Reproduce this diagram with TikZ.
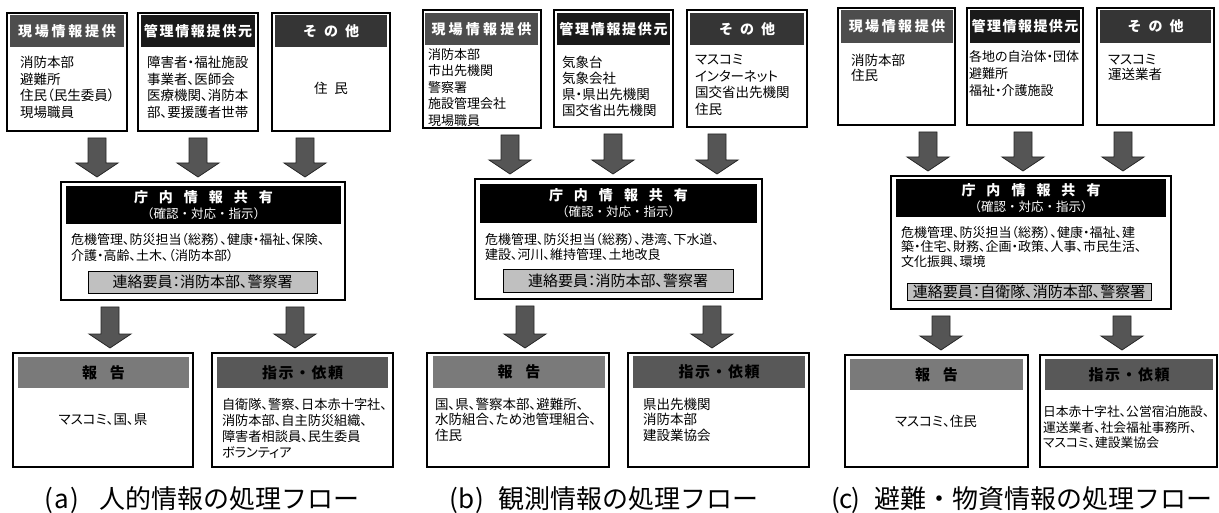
\documentclass[tikz,border=0pt]{standalone}
\usepackage{fontspec}
\setmainfont{Noto Sans CJK JP}[RawFeature=+palt]
\newfontfamily\fwfont{Noto Sans CJK JP}
\usetikzlibrary{calc}
\definecolor{hA}{HTML}{4D4D4D}
\definecolor{hB}{HTML}{1A1A1A}
\definecolor{hC}{HTML}{353535}
\definecolor{rep}{HTML}{7A7A7A}
\definecolor{ins}{HTML}{585858}
\definecolor{gbox}{HTML}{C0C0C0}
\definecolor{arr}{HTML}{555555}
\makeatletter
\newcommand{\spc}[2]{\def\spc@sep{\hspace{#1}}\spc@loop#2\relax}
\def\spc@loop#1{\ifx#1\relax\else#1\expandafter\spc@next\fi}
\def\spc@next#1{\ifx#1\relax\else\spc@sep#1\expandafter\spc@next\fi}
\makeatother
\newcommand{\hw}[2]{\makebox[#1]{#2}}
\newcommand{\mkbox}[7]{\node[#6, minimum width={#4-#2}, minimum height={#5-#3}, anchor=north west] (#1) at (#2,#3) {#7};}
\newcommand{\barrow}[3]{%
  \draw[barrowst] let \p1=(#2.south), \p2=(#3.north) in
  ({#1pt-9pt},{\y1-7pt}) -- ({#1pt+9pt},{\y1-7pt}) -- ({#1pt+9pt},{\y2+19pt}) --
  ({#1pt+21pt},{\y2+19pt}) -- ({#1pt},{\y2+5pt}) -- ({#1pt-21pt},{\y2+19pt}) --
  ({#1pt-9pt},{\y2+19pt}) -- cycle;}
\begin{document}
\begin{tikzpicture}[x=1pt,y=-1pt,
  every node/.style={inner sep=0pt, outer sep=0pt},
  obox/.style={draw=black, line width=1.3pt, fill=white},
  hdr/.style={fill=#1, text=white, font=\fwfont\bfseries\fontsize{14}{16}\selectfont},
  mhdr/.style={fill=black, text=white, align=center, font=\fwfont\fontsize{12.5}{16}\selectfont},
  bhdr/.style={fill=#1, text=black, font=\fwfont\bfseries\fontsize{15}{17}\selectfont},
  gbx/.style={draw=black, line width=0.9pt, fill=gbox, font=\fontsize{15}{17}\selectfont},
  topt/.style={anchor=west, align=left, font=\fontsize{13.5}{16.5}\selectfont},
  midt/.style={anchor=west, align=left, font=\fontsize{13}{15.5}\selectfont},
  bott/.style={anchor=west, align=left, font=\fontsize{13.5}{16}\selectfont},
  captxt/.style={font=\fwfont\fontsize{26}{30}\selectfont},
  barrowst/.style={fill=arr, draw=black!85, line width=0.8pt, line join=miter}]
\fill[white] (0,0) rectangle (1219,513);
\useasboundingbox (0,0) rectangle (1219,513);

% ================= (a) =================
\mkbox{a1}{7}{13}{127}{131}{obox}{}
\mkbox{a1h}{10}{15}{124}{47}{hdr=hA}{\spc{2.8pt}{現場情報提供}}
\node[topt] (a1t) at (20,87.5) {消防本部\\避難所\\住民（民生委員）\\現場職員};
\mkbox{a2}{138}{13}{258}{131}{obox}{}
\mkbox{a2h}{141}{15}{255}{47}{hdr=hB}{\spc{1.7pt}{管理情報提供元}}
\node[topt] (a2t) at (147,87.5) {障害者・福祉施設\\事業者、医師会\\医療機関、消防本\\部、要援護者世帯};
\mkbox{a3}{272}{13}{390}{131}{obox}{}
\mkbox{a3h}{275}{15}{387}{47}{hdr=hC}{\spc{7pt}{その他}}
\node[font=\fontsize{13.5}{16}\selectfont] (a3t) at (331,88) {住\hspace{7pt}民};

\mkbox{am}{61}{182}{345}{300}{obox}{}
\mkbox{amh}{66}{186}{341}{224}{mhdr}{{\bfseries\fontsize{14}{16}\selectfont\spc{11pt}{庁内情報共有}}\\（確認・対応・指示）}
\node[midt] (amt) at (71,247.5) {危機管理、防災担当（総務）、健康・福祉、保険、\\介護・高齢、土木、（消防本部）};
\mkbox{amg}{88}{271}{317}{293}{gbx}{連絡要員：消防本部、警察署}

\mkbox{ab1}{13}{353}{193}{467}{obox}{}
\mkbox{ab1h}{18}{357}{189}{388}{bhdr=rep}{\spc{13pt}{報告}}
\node[font=\fontsize{13.5}{16}\selectfont] (ab1t) at (103,420) {マスコミ、国、県};
\mkbox{ab2}{212}{353}{393}{467}{obox}{}
\mkbox{ab2h}{217}{357}{388}{388}{bhdr=ins}{\spc{1.5pt}{指示・依頼}}
\node[bott, font=\fontsize{13.2}{16}\selectfont] (ab2t) at (222,428) {自衛隊、警察、日本赤十字社、\\消防本部、自主防災組織、\\障害者相談員、民生委員\\ボランティア};

\barrow{97}{a1}{am}
\barrow{198}{a2}{am}
\barrow{305}{a3}{am}
\barrow{110}{am}{ab1}
\barrow{295}{am}{ab2}
\node[captxt] (capa) at (201,500) {\hw{13pt}{(}\hw{13pt}{a}\hw{13pt}{)}\hspace{18pt}人的情報の処理フロー};

% ================= (b) =================
\mkbox{b1}{423}{10}{541}{128}{obox}{}
\mkbox{b1h}{425}{13}{538}{45}{hdr=hA}{\spc{3.2pt}{現場情報提供}}
\node[topt, font=\fontsize{13}{16.5}\selectfont] (b1t) at (428,87.5) {消防本部\\市出先機関\\警察署\\施設管理会社\\現場職員};
\mkbox{b2}{554}{10}{673}{127}{obox}{}
\mkbox{b2h}{557}{13}{670}{45}{hdr=hB}{\spc{1.7pt}{管理情報提供元}}
\node[topt, font=\fontsize{13.5}{16}\selectfont] (b2t) at (562,86) {気象台\\気象会社\\県・県出先機関\\国交省出先機関};
\mkbox{b3}{687}{10}{807}{127}{obox}{}
\mkbox{b3h}{690}{13}{804}{45}{hdr=hC}{\spc{7pt}{その他}}
\node[topt, font=\fontsize{13.5}{16.7}\selectfont] (b3t) at (695,85) {マスコミ\\インターネット\\国交省出先機関\\住民};

\mkbox{bm}{475}{179}{762}{299}{obox}{}
\mkbox{bmh}{480}{184}{757}{223}{mhdr}{{\bfseries\fontsize{14}{16}\selectfont\spc{11pt}{庁内情報共有}}\\（確認・対応・指示）}
\node[midt] (bmt) at (485,247) {危機管理、防災担当（総務）、港湾、下水道、\\建設、河川、維持管理、土地改良};
\mkbox{bmg}{503}{269}{733}{292}{gbx}{連絡要員：消防本部、警察署}

\mkbox{bb1}{427}{353}{609}{467}{obox}{}
\mkbox{bb1h}{433}{356}{605}{388}{bhdr=rep}{\spc{13pt}{報告}}
\node[bott, font=\fontsize{13.5}{15.5}\selectfont] (bb1t) at (435,419.5) {国、県、警察本部、避難所、\\水防組合、ため池管理組合、\\住民};
\mkbox{bb2}{628}{353}{809}{467}{obox}{}
\mkbox{bb2h}{633}{356}{805}{388}{bhdr=ins}{\spc{1.5pt}{指示・依頼}}
\node[bott, font=\fontsize{13.5}{15.5}\selectfont] (bb2t) at (643,419.5) {県出先機関\\消防本部\\建設業協会};

\barrow{510}{b1}{bm}
\barrow{613}{b2}{bm}
\barrow{717}{b3}{bm}
\barrow{525}{bm}{bb1}
\barrow{712}{bm}{bb2}
\node[captxt] (capb) at (603,500) {\hw{13pt}{(}\hw{13pt}{b}\hw{13pt}{)}\hspace{12pt}観測情報の処理フロー};

% ================= (c) =================
\mkbox{c1}{838}{8}{955}{125}{obox}{}
\mkbox{c1h}{841}{10}{953}{43}{hdr=hA}{\spc{2.5pt}{現場情報提供}}
\node[topt, font=\fontsize{13.5}{15}\selectfont] (c1t) at (851,67.5) {消防本部\\住民};
\mkbox{c2}{967}{8}{1083}{125}{obox}{}
\mkbox{c2h}{970}{10}{1080}{43}{hdr=hB}{\spc{1.5pt}{管理情報提供元}}
\node[topt, font=\fontsize{13}{17}\selectfont] (c2t) at (969,74) {各地の自治体・団体\\避難所\\福祉・介護施設};
\mkbox{c3}{1097}{8}{1214}{125}{obox}{}
\mkbox{c3h}{1100}{10}{1211}{43}{hdr=hC}{\spc{7pt}{その他}}
\node[topt, font=\fontsize{13.5}{15}\selectfont] (c3t) at (1108,67.5) {マスコミ\\運送業者};

\mkbox{cm}{891}{176}{1171}{309}{obox}{}
\mkbox{cmh}{896}{179}{1166}{217}{mhdr}{{\bfseries\fontsize{14}{16}\selectfont\spc{11pt}{庁内情報共有}}\\（確認・対応・指示）}
\node[midt, font=\fontsize{13}{14.5}\selectfont] (cmt) at (901,246.5) {危機管理、防災担当（総務）、健康・福祉、建\\築・住宅、財務、企画・政策、人事、市民生活、\\文化振興、環境};
\mkbox{cmg}{907}{283}{1151}{300}{gbx}{連絡要員：自衛隊、消防本部、警察署}

\mkbox{cb1}{845}{355}{1028}{467}{obox}{}
\mkbox{cb1h}{850}{359}{1023}{390}{bhdr=rep}{\spc{13pt}{報告}}
\node[font=\fontsize{13.5}{16}\selectfont] (cb1t) at (936,421) {マスコミ、住民};
\mkbox{cb2}{1040}{355}{1217}{467}{obox}{}
\mkbox{cb2h}{1045}{359}{1213}{390}{bhdr=ins}{\spc{1.5pt}{指示・依頼}}
\node[bott, font=\fontsize{12.8}{15.5}\selectfont] (cb2t) at (1043,427.5) {日本赤十字社、公営宿泊施設、\\運送業者、社会福祉事務所、\\マスコミ、建設業協会};

\barrow{928}{c1}{cm}
\barrow{1023}{c2}{cm}
\barrow{1123}{c3}{cm}
\barrow{941}{cm}{cb1}
\barrow{1122}{cm}{cb2}
\node[captxt] (capc) at (1022,500) {\hw{10pt}{(}\hw{10pt}{c}\hw{10pt}{)}\hspace{14pt}避難・物資情報の処理フロー};
\end{tikzpicture}
\end{document}
